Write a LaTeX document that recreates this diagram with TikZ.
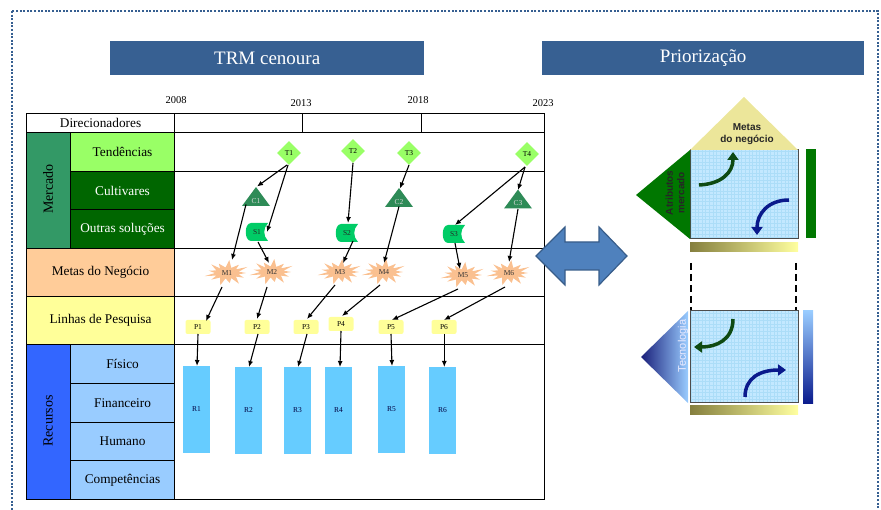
\documentclass[tikz,border=0pt]{standalone}
\usepackage{fontspec}
\setmainfont{Liberation Serif}
\newfontfamily\sansb{Liberation Sans}
\usetikzlibrary{shapes.geometric,arrows.meta,calc}
\newcommand{\tabf}{\fontsize{13.3}{15}\selectfont}
\newcommand{\rotf}{\fontsize{14}{16}\selectfont}
\newcommand{\smallf}{\fontsize{7.5}{8}\selectfont}
\newcommand{\yearf}{\fontsize{10.5}{12}\selectfont}
\newcommand{\hdrf}{\fontsize{19}{22}\selectfont}
\definecolor{bordc}{HTML}{365F91}
\definecolor{hdrc}{HTML}{376092}
\definecolor{mercc}{HTML}{339966}
\definecolor{tendc}{HTML}{99FF66}
\definecolor{cultc}{HTML}{006600}
\definecolor{metasc}{HTML}{FFCC99}
\definecolor{linhc}{HTML}{FFFF99}
\definecolor{recc}{HTML}{3366FF}
\definecolor{recsubc}{HTML}{99CCFF}
\definecolor{cfillc}{HTML}{2E8B57}
\definecolor{sfillc}{HTML}{00CC66}
\definecolor{mfillc}{HTML}{FAC090}
\definecolor{rfillc}{HTML}{66CCFF}
\definecolor{dblc}{HTML}{4F81BD}
\definecolor{dbledge}{HTML}{385D8A}
\definecolor{gridbg}{HTML}{C3E8FF}
\definecolor{gridln}{HTML}{ACDDF8}
\definecolor{dgreen}{HTML}{007700}
\definecolor{agreen}{HTML}{0E4A12}
\definecolor{ablue}{HTML}{0A1A8C}
\definecolor{ytri}{HTML}{ECE69A}
\definecolor{olivec}{HTML}{857F3E}
\definecolor{paley}{HTML}{FFFFA0}
\definecolor{navyc}{HTML}{1A1F7A}
\newcommand{\sdshape}[2]{\fill[sfillc] ({#1-6},{#2-9}) -- ({#1+11},{#2-9}) .. controls ({#1+6},{#2-4}) and ({#1+6},{#2+4}) .. ({#1+11},{#2+9}) -- ({#1-6},{#2+9}) .. controls ({#1-13},{#2+9}) and ({#1-13},{#2-9}) .. ({#1-6},{#2-9}) -- cycle;}
\newcommand{\ctri}[2]{\fill[cfillc] ({#1-14},{#2+9.5}) -- (#1,{#2-9.5}) -- ({#1+14},{#2+9.5}) -- cycle;}
\newcommand{\mburst}[2]{\fill[mfillc] (#1,#2) +(0:19pt and 9pt) \foreach \k [evaluate=\k as \rx using {12+7*mod(\k+1,2)+2*mod(\k,3)*mod(\k+1,2)}, evaluate=\k as \ry using {5.5+4.5*mod(\k+1,2)+1.5*mod(\k,4)*mod(\k+1,2)}] in {1,...,25}{ -- +({\k*360/26}:\rx pt and \ry pt)} -- cycle;}
\begin{document}
\begin{tikzpicture}[x=1pt,y=-1pt,
  cell/.style={draw=black, line width=1.1pt, inner sep=0pt, anchor=north west, font=\tabf},
  lbl/.style={inner sep=0pt, font=\smallf, text=black!85},
  tnode/.style={diamond, fill=tendc, minimum width=24pt, minimum height=24pt, inner sep=0pt, font=\smallf},
  box/.style={inner sep=0pt, minimum width=28pt, minimum height=19pt},
  mnode/.style={inner sep=0pt, minimum width=36pt, minimum height=20pt, font=\smallf, text=black!80},
  pnode/.style={rounded corners=2pt, fill=linhc, minimum width=25pt, minimum height=14pt, inner sep=0pt, font=\smallf},
  rnode/.style={fill=rfillc, minimum width=27pt, minimum height=87pt, inner sep=0pt, font=\smallf, text=black!75!blue},
  conn/.style={line width=1.1pt, -{Latex[length=6pt,width=5pt]}},
  hdrbox/.style={fill=hdrc, text=white, font=\hdrf, anchor=north west, inner sep=0pt},
  garrow/.style={agreen, line width=3.5pt, -{Triangle[length=8pt,width=11pt]}},
  barrow/.style={ablue, line width=3.5pt, -{Triangle[length=8pt,width=11pt]}},
  rsans/.style={font=\sansb\bfseries\fontsize{10}{11.5}\selectfont, align=center, inner sep=0pt}
]
\useasboundingbox (0,0) rectangle (881,510);
\begin{scope}
\clip (0,0) rectangle (881,510);
\draw[bordc, line width=2.2pt, dash pattern=on 2pt off 1.6pt] (12,11) rectangle (878,525);
\end{scope}
% headers
\node[hdrbox, minimum width=314pt, minimum height=34pt] (trm) at (110,41) {TRM cenoura};
\node[hdrbox, minimum width=322pt, minimum height=34pt] (prio) at (542,41) {Priorização};
% years
\node[font=\yearf, inner sep=0pt] (y08) at (176,100) {2008};
\node[font=\yearf, inner sep=0pt] (y13) at (301,103) {2013};
\node[font=\yearf, inner sep=0pt] (y18) at (418,100) {2018};
\node[font=\yearf, inner sep=0pt] (y23) at (543,103) {2023};
% table right area
\node[cell, minimum width=370pt, minimum height=39pt] (rowT) at (174,132) {};
\node[cell, minimum width=370pt, minimum height=77pt] (rowC) at (174,171) {};
\node[cell, minimum width=370pt, minimum height=48pt] (rowM) at (174,248) {};
\node[cell, minimum width=370pt, minimum height=48pt] (rowL) at (174,296) {};
\node[cell, minimum width=370pt, minimum height=155pt] (rowR) at (174,344) {};
% table label column
\node[cell, minimum width=148pt, minimum height=19pt] (dir) at (26,113) {Direcionadores};
\node[cell, minimum width=128pt, minimum height=19pt] (c1) at (174,113) {};
\node[cell, minimum width=119pt, minimum height=19pt] (c2) at (302,113) {};
\node[cell, minimum width=123pt, minimum height=19pt] (c3) at (421,113) {};
\node[cell, fill=mercc, minimum width=44pt, minimum height=116pt] (merc) at (26,132) {};
\node[font=\rotf, rotate=90, inner sep=0pt] (mercl) at (48,189) {Mercado};
\node[cell, fill=tendc, minimum width=104pt, minimum height=39pt] (tend) at (70,132) {Tendências};
\node[cell, fill=cultc, text=white, minimum width=104pt, minimum height=38pt] (cult) at (70,171) {Cultivares};
\node[cell, fill=cultc, text=white, minimum width=104pt, minimum height=39pt] (outr) at (70,209) {Outras soluções};
\node[cell, fill=metasc, minimum width=148pt, minimum height=48pt] (metas) at (26,248) {Metas do Negócio};
\node[cell, fill=linhc, minimum width=148pt, minimum height=48pt] (linhas) at (26,296) {Linhas de Pesquisa};
\node[cell, fill=recc, minimum width=44pt, minimum height=155pt] (recur) at (26,344) {};
\node[font=\rotf, rotate=90, inner sep=0pt] (recl) at (48,421) {Recursos};
\node[cell, fill=recsubc, minimum width=104pt, minimum height=39pt] (fis) at (70,344) {Físico};
\node[cell, fill=recsubc, minimum width=104pt, minimum height=39pt] (fin) at (70,383) {Financeiro};
\node[cell, fill=recsubc, minimum width=104pt, minimum height=38pt] (hum) at (70,422) {Humano};
\node[cell, fill=recsubc, minimum width=104pt, minimum height=39pt] (comp) at (70,460) {Competências};
% T nodes
\node[tnode] (T1) at (289,153) {T1};
\node[tnode] (T2) at (353,151) {T2};
\node[tnode] (T3) at (409,153) {T3};
\node[tnode] (T4) at (527,154) {T4};
% C nodes
\ctri{256}{196.5}\node[box] (C1) at (256,196.5) {};
\node[lbl, text=white!85!black] (C1l) at (256,201) {C1};
\ctri{399}{197.5}\node[box] (C2) at (399,197.5) {};
\node[lbl, text=white!85!black] (C2l) at (399,202) {C2};
\ctri{518}{199}\node[box] (C3) at (518,199) {};
\node[lbl, text=white!85!black] (C3l) at (518,203.5) {C3};
% S nodes
\sdshape{257}{232}\node[lbl, minimum width=22pt, minimum height=18pt] (S1) at (257,232) {S1};
\sdshape{347}{233}\node[lbl, minimum width=22pt, minimum height=18pt] (S2) at (347,233) {S2};
\sdshape{454}{234}\node[lbl, minimum width=22pt, minimum height=18pt] (S3) at (454,234) {S3};
% M nodes
\mburst{227}{273}\node[mnode] (M1) at (227,273) {M1};
\mburst{272}{272}\node[mnode] (M2) at (272,272) {M2};
\mburst{340}{272}\node[mnode] (M3) at (340,272) {M3};
\mburst{384}{272}\node[mnode] (M4) at (384,272) {M4};
\mburst{463}{275}\node[mnode] (M5) at (463,275) {M5};
\mburst{509}{273}\node[mnode] (M6) at (509,273) {M6};
% P nodes
\node[pnode] (P1) at (198,327) {P1};
\node[pnode] (P2) at (257,327) {P2};
\node[pnode] (P3) at (306,327) {P3};
\node[pnode] (P4) at (341,324) {P4};
\node[pnode] (P5) at (391,327) {P5};
\node[pnode] (P6) at (444,327) {P6};
% R nodes
\node[rnode] (R1) at (196.5,409.5) {R1};
\node[rnode] (R2) at (248.5,410.5) {R2};
\node[rnode] (R3) at (297.5,410.5) {R3};
\node[rnode] (R4) at (338.5,410.5) {R4};
\node[rnode] (R5) at (391.5,409.5) {R5};
\node[rnode] (R6) at (442.5,410.5) {R6};
% connectors
\draw[conn] ($(T1)+(-2,12)$) -- ($(C1)+(1,-10)$);
\draw[conn] ($(T1)+(-1,12)$) -- ($(S1)+(10,0)$);
\draw[conn] ($(T2)+(0,12)$) -- ($(S2)+(1,-10)$);
\draw[conn] ($(T3)+(0,12)$) -- ($(C2)+(1,-9)$);
\draw[conn] ($(T4)+(-2,13)$) -- ($(C3)+(0,-9)$);
\draw[conn] ($(T4)+(-2,13)$) -- ($(S3)+(1,-9)$);
\draw[conn] ($(C1)+(-10,8)$) -- ($(M1)+(5,-13)$);
\draw[conn] ($(S1)+(1,10)$) -- ($(M2)+(-3,-9)$);
\draw[conn] ($(S2)+(6,8)$) -- ($(M3)+(3,-9)$);
\draw[conn] ($(C2)+(0,9)$) -- ($(M4)+(0,-9)$);
\draw[conn] ($(S3)+(1,9)$) -- ($(M5)+(-3,-6)$);
\draw[conn] ($(C3)+(0,10)$) -- ($(M6)+(0,-11)$);
\draw[conn] ($(M1)+(-5,14)$) -- ($(P1)+(8,-6)$);
\draw[conn] ($(M2)+(-5,15)$) -- ($(P2)+(0,-8)$);
\draw[conn] ($(M3)+(-5,13)$) -- ($(P3)+(1,-8)$);
\draw[conn] ($(M4)+(-4,13)$) -- ($(P4)+(1,-8)$);
\draw[conn] ($(M5)+(-5,14)$) -- ($(P5)+(1,-7)$);
\draw[conn] ($(M6)+(-4,14)$) -- ($(P6)+(0,-7)$);
\draw[conn] ($(P1)+(0,7)$) -- ($(R1)+(0.5,-43.5)$);
\draw[conn] ($(P2)+(1,7)$) -- ($(R2)+(0.5,-43.5)$);
\draw[conn] ($(P3)+(1,7)$) -- ($(R3)+(0.5,-43.5)$);
\draw[conn] ($(P4)+(0,7)$) -- ($(R4)+(1.5,-43.5)$);
\draw[conn] ($(P5)+(0,7)$) -- ($(R5)+(0.5,-43.5)$);
\draw[conn] ($(P6)+(0.3,7)$) -- ($(R6)+(1.8,-43.5)$);
% double arrow
\draw[fill=dblc, draw=dbledge, line width=1.2pt, line join=miter] (536,256) -- (565,227) -- (565,242) -- (599,242) -- (599,227) -- (627,256) -- (599,285) -- (599,270) -- (565,270) -- (565,285) -- cycle;
% right top group
\fill[gridbg] (690,150) rectangle (798,239);
\draw[gridln, line width=0.25pt, step=3.6pt] (690,150) grid (798,239);
\draw[black!70, line width=1pt] (690,150) rectangle (798,239);
\fill[ytri] (690,150) -- (744,97) -- (798,150) -- cycle;
\node[rsans, text=black!85] (metasn) at (747,134) {Metas\\do negócio};
\fill[dgreen] (690,150) -- (636,195) -- (690,239) -- cycle;
\node[rsans, rotate=90, text=black!85] (atrib) at (675,193) {Atributos\\mercado};
\fill[dgreen] (806,149) rectangle (816,238);
\shade[left color=olivec, right color=paley] (690,243) rectangle (798,252);
\draw[garrow] (699,185) .. controls (722,184) and (733,172) .. (733,152);
\draw[barrow] (789,200) .. controls (768,200) and (757,214) .. (757,235);
% dashed links
\draw[black, line width=2.5pt, dash pattern=on 7pt off 4pt] (691,263) -- (691,311);
\draw[black, line width=2.5pt, dash pattern=on 7pt off 4pt] (796,263) -- (796,311);
% right bottom group
\fill[gridbg] (690,311) rectangle (798,403);
\draw[gridln, line width=0.25pt, step=3.6pt] (690,311) grid (798,403);
\draw[black!70, line width=1pt] (690,311) rectangle (798,403);
\shade[left color=navyc, right color=recsubc] (688,311) -- (641,357) -- (688,403) -- cycle;
\node[font=\sansb\fontsize{11}{12}\selectfont, rotate=90, text=white!92!blue, inner sep=0pt] (tec) at (683,346) {Tecnologia};
\shade[top color=recsubc, bottom color=ablue] (803,311) rectangle (813,404);
\shade[left color=olivec, right color=paley] (690,406) rectangle (798,415);
\draw[garrow] (733,319) .. controls (733,340) and (716,347) .. (694,347);
\draw[barrow] (745,397) .. controls (745,378) and (760,370) .. (786,370);
\end{tikzpicture}
\end{document}
